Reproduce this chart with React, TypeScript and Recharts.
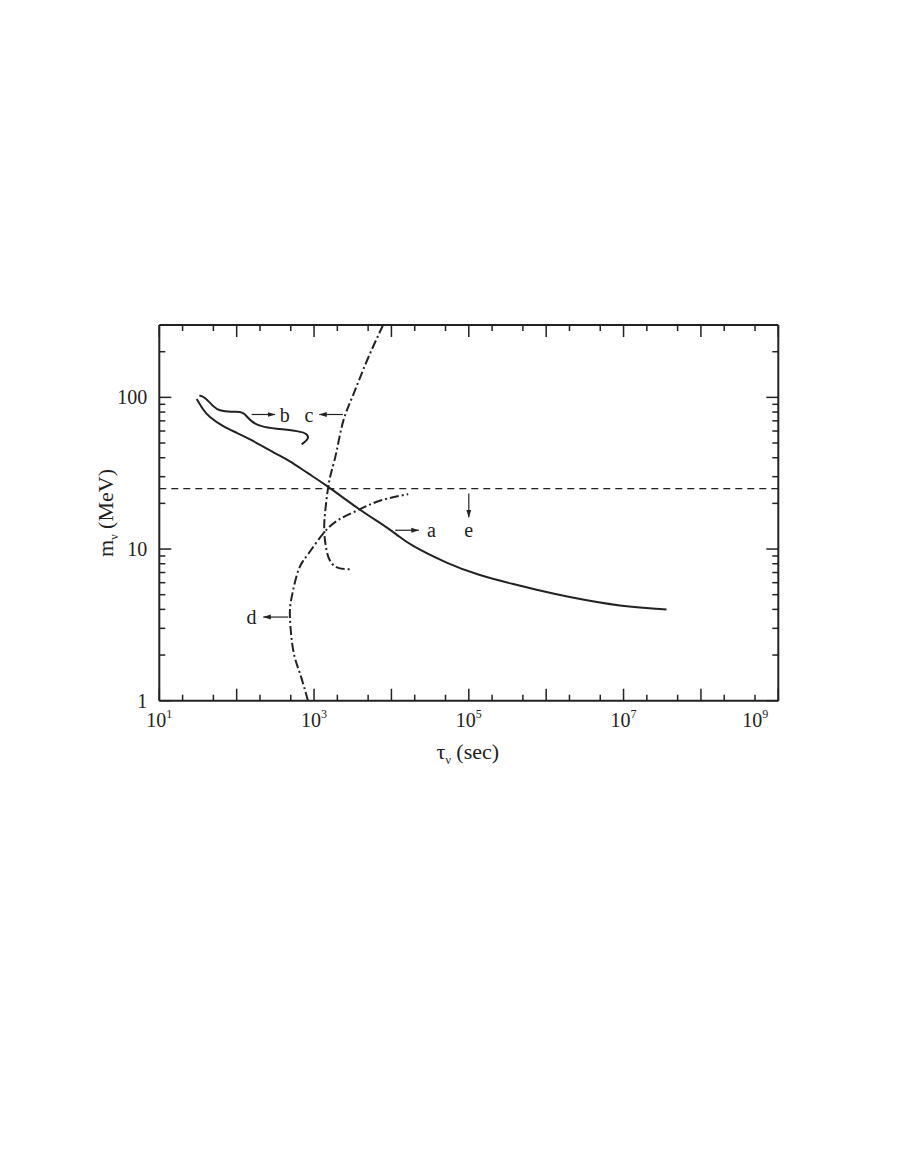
import React from 'react'
import { ComposedChart, Line, XAxis, YAxis, ReferenceLine, ReferenceDot } from 'recharts'

// curve a (solid)
const curveA = [
   { t: 30.4, m: 97.7 }, { t: 37, m: 83.2 }, { t: 45.2, m: 74.3 }, { t: 67.1, m: 64.6 },
   { t: 100, m: 58.4 }, { t: 149, m: 52.8 }, { t: 221, m: 47.3 }, { t: 329, m: 42.3 },
   { t: 488, m: 37.8 }, { t: 842, m: 31.5 }, { t: 1526, m: 25.7 }, { t: 3725, m: 18.5 },
   { t: 7100, m: 14.86 }, { t: 11675, m: 12.45 }, { t: 19130, m: 10.48 }, { t: 51670, m: 8.14 },
   { t: 139100, m: 6.74 }, { t: 374700, m: 5.88 }, { t: 751600, m: 5.39 }, { t: 2.02e6, m: 4.83 },
   { t: 8.96e6, m: 4.25 }, { t: 3.59e7, m: 4.0 },
]

// curve b (solid, wiggly, curls back at the end)
const curveB = [
   { t: 32.9, m: 102.8 }, { t: 38.9, m: 99.1 }, { t: 49.9, m: 87.5 }, { t: 60.8, m: 82.3 },
   { t: 85, m: 80.5 }, { t: 110, m: 80.2 }, { t: 128, m: 77.1 }, { t: 156, m: 69.7 },
   { t: 210, m: 64.6 }, { t: 329, m: 62.1 }, { t: 596, m: 59.9 }, { t: 802, m: 57.0 },
   { t: 817, m: 52.9 }, { t: 692, m: 49.0 },
]

// curve c (dash-dot), from the top edge downwards
const curveC = [
   { t: 7800, m: 300 }, { t: 4790, m: 173 }, { t: 3206, m: 104 }, { t: 2383, m: 69.7 },
   { t: 1959, m: 44.3 }, { t: 1687, m: 32.7 }, { t: 1525, m: 25.7 }, { t: 1383, m: 17.0 },
   { t: 1355, m: 12.9 }, { t: 1426, m: 10.3 }, { t: 1604, m: 8.39 }, { t: 2055, m: 7.51 },
   { t: 2911, m: 7.36 },
]

// curve d (dash-dot), from the bottom edge upwards
const curveD = [
   { t: 835, m: 1.0 }, { t: 658, m: 1.51 }, { t: 538, m: 2.15 }, { t: 488, m: 3.56 },
   { t: 514, m: 4.82 }, { t: 625, m: 7.21 }, { t: 841, m: 9.29 }, { t: 1355, m: 12.9 },
   { t: 2162, m: 15.8 }, { t: 3727, m: 18.1 }, { t: 7100, m: 20.8 }, { t: 16480, m: 23.0 },
]

const limitE = 25

const xTicks = [10, 20, 50, 1e2, 2e2, 5e2, 1e3, 2e3, 5e3, 1e4, 2e4, 5e4, 1e5, 2e5, 5e5,
   1e6, 2e6, 5e6, 1e7, 2e7, 5e7, 1e8, 2e8, 5e8, 1e9]
const xLabelled = [10, 1e3, 1e5, 1e7, 1e9]
const yTicks = [1, 2, 3, 4, 5, 6, 7, 8, 9, 10, 20, 30, 40, 50, 60, 70, 80, 90, 100, 200]

// arrows: [from, to] in data units
const arrows = [
   { label: 'a', from: { t: 11200, m: 13.3 }, to: { t: 22600, m: 13.3 }, at: { t: 33000, m: 13.3 } },
   { label: 'b', from: { t: 156, m: 77.1 }, to: { t: 313, m: 77.1 }, at: { t: 417, m: 77.1 } },
   { label: 'c', from: { t: 2360, m: 77.1 }, to: { t: 1167, m: 77.1 }, at: { t: 859, m: 77.1 } },
   { label: 'd', from: { t: 464, m: 3.56 }, to: { t: 221, m: 3.56 }, at: { t: 156, m: 3.56 } },
   { label: 'e', from: { t: 1e5, m: 23.2 }, to: { t: 1e5, m: 16.2 }, at: { t: 1e5, m: 13.3 } },
]

const INK = '#222'
const isPow10 = (v: number) => Math.abs(Math.log10(v) - Math.round(Math.log10(v))) < 1e-9

const XTick = (dir: number, showLabel: boolean) => (props: any) => {
   const { x, y, payload } = props
   const v = payload.value
   const major = isPow10(v)
   const len = major ? 12 : 6
   const exp = Math.round(Math.log10(v))
   const dx = exp === 9 ? -23 : 0
   return (
      <g>
         <line x1={ x } x2={ x } y1={ y } y2={ y - dir * len } stroke={ INK } strokeWidth={ 1.5 } />
         { showLabel && xLabelled.includes(v) && (
            <text x={ x + dx } y={ y + 26 } textAnchor="middle" fontSize={ 20 } fill={ INK }>
               <tspan>10</tspan>
               <tspan dy={ -9 } fontSize={ 12 }>{ exp }</tspan>
            </text>
         ) }
      </g>
   )
}

const YTick = (dir: number, showLabel: boolean) => (props: any) => {
   const { x, y, payload } = props
   const v = payload.value
   const major = isPow10(v)
   const len = major ? 12 : 6
   return (
      <g>
         <line x1={ x } x2={ x + dir * len } y1={ y } y2={ y } stroke={ INK } strokeWidth={ 1.5 } />
         { showLabel && major && (
            <text x={ x - 12 } y={ y + 7 } textAnchor="end" fontSize={ 20 } fill={ INK }>{ v }</text>
         ) }
      </g>
   )
}

const XLabel = (props: any) => {
   const { viewBox } = props
   return (
      <text x={ viewBox.x + viewBox.width / 2 - 1 } y={ viewBox.y + 58 } textAnchor="middle" fontSize={ 22 } fill={ INK }>
         <tspan>τ</tspan>
         <tspan dy={ 5 } fontSize={ 12 }>ν</tspan>
         <tspan dy={ -5 }> (sec)</tspan>
      </text>
   )
}

const YLabel = (props: any) => {
   const { viewBox } = props
   const cx = viewBox.x + 14
   const cy = 505
   return (
      <text x={ cx } y={ cy } transform={ `rotate(-90 ${ cx } ${ cy })` } textAnchor="middle" fontSize={ 22 } fill={ INK }>
         <tspan>m</tspan>
         <tspan dy={ 5 } fontSize={ 12 }>ν</tspan>
         <tspan dy={ -5 }> (MeV)</tspan>
      </text>
   )
}

export default function App() {
   return (
      <div style={ { fontFamily: '"Liberation Serif", serif' } }>
         <ComposedChart width={ 892 } height={ 1000 } margin={ { top: 307, right: 111.7, bottom: 267.3, left: 91.3 } }>
            <defs>
               <marker id="arrowHead" markerWidth="8" markerHeight="6" refX="7.5" refY="3" orient="auto" markerUnits="userSpaceOnUse">
                  <path d="M0,0.5 L8,3 L0,5.5 z" fill={ INK } />
               </marker>
            </defs>
            <XAxis xAxisId={ 0 } dataKey="t" type="number" scale="log" domain={ [10, 1e9] } allowDataOverflow
               ticks={ xTicks } interval={ 0 } tickSize={ 0 } tickMargin={ 0 } tickLine={ false }
               axisLine={ { stroke: INK, strokeWidth: 2 } } height={ 40 } tick={ XTick(1, true) }
               label={ { content: XLabel } } />
            <XAxis xAxisId="top" orientation="top" dataKey="t" type="number" scale="log" domain={ [10, 1e9] } allowDataOverflow
               ticks={ xTicks } interval={ 0 } tickSize={ 0 } tickMargin={ 0 } tickLine={ false }
               axisLine={ { stroke: INK, strokeWidth: 2 } } height={ 10 } tick={ XTick(-1, false) } />
            <YAxis yAxisId={ 0 } type="number" scale="log" domain={ [1, 300] } allowDataOverflow
               ticks={ yTicks } interval={ 0 } tickSize={ 0 } tickMargin={ 0 } tickLine={ false }
               axisLine={ { stroke: INK, strokeWidth: 2 } } width={ 60 } tick={ YTick(1, true) }
               label={ { content: YLabel } } />
            <YAxis yAxisId="right" orientation="right" type="number" scale="log" domain={ [1, 300] } allowDataOverflow
               ticks={ yTicks } interval={ 0 } tickSize={ 0 } tickMargin={ 0 } tickLine={ false }
               axisLine={ { stroke: INK, strokeWidth: 2 } } width={ 10 } tick={ YTick(-1, false) } />

            <ReferenceLine y={ limitE } stroke={ INK } strokeWidth={ 1.3 } strokeDasharray="7 5" />

            <Line data={ curveA } dataKey="m" type="natural" stroke={ INK } strokeWidth={ 2 } dot={ false } isAnimationActive={ false } />
            <Line data={ curveB } dataKey="m" type="natural" stroke={ INK } strokeWidth={ 2 } dot={ false } isAnimationActive={ false } />
            <Line data={ curveC } dataKey="m" type="natural" stroke={ INK } strokeWidth={ 2 } strokeDasharray="9 3 2 3" dot={ false } isAnimationActive={ false } />
            <Line data={ curveD } dataKey="m" type="natural" stroke={ INK } strokeWidth={ 2 } strokeDasharray="9 3 2 3" dot={ false } isAnimationActive={ false } />

            { arrows.map(a => (
               <ReferenceLine key={ `arr-${ a.label }` } segment={ [{ x: a.from.t, y: a.from.m }, { x: a.to.t, y: a.to.m }] }
                  stroke={ INK } strokeWidth={ 1.2 } markerEnd="url(#arrowHead)" />
            )) }
            { arrows.map(a => (
               <ReferenceDot key={ `lab-${ a.label }` } x={ a.at.t } y={ a.at.m } r={ 0 } fill="none" stroke="none"
                  label={ { value: a.label, position: 'center', fontSize: 20, fill: INK } } />
            )) }
         </ComposedChart>
      </div>
   )
}
